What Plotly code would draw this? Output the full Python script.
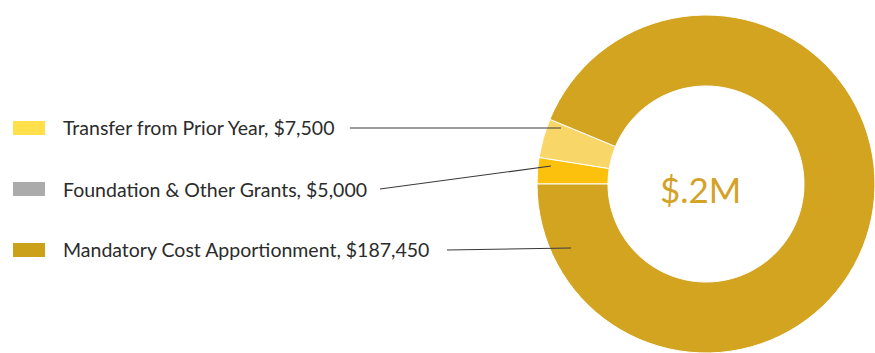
import plotly.graph_objects as go

# Funding sources (legend order)
labels = ["Transfer from Prior Year", "Foundation & Other Grants", "Mandatory Cost Apportionment"]
values = [7500, 5000, 187450]
value_text = ["$7,500", "$5,000", "$187,450"]
total_text = "$.2M"

slice_colors = ["#F8D668", "#FBC10C", "#D3A420"]
swatch_colors = ["#FFE04A", "#ABABAB", "#CBA11A"]

W, H = 875, 353


def px(x, y):
    """Convert pixel position (from top-left) to paper coordinates."""
    return x / W, 1 - y / H


# Donut placement in pixels
cx, cy, r = 706, 184, 169

fig = go.Figure()
fig.add_trace(go.Pie(
    labels=labels,
    values=values,
    sort=False,
    direction="counterclockwise",
    rotation=279,
    hole=0.58,
    marker=dict(colors=slice_colors, line=dict(color="white", width=1)),
    textinfo="none",
    hoverinfo="label+value",
    showlegend=False,
    domain=dict(x=[(cx - r) / W, (cx + r) / W], y=[1 - (cy + r) / H, 1 - (cy - r) / H]),
))

# Custom legend rows with leader lines
row_y = [128, 189, 250]
line_start_x = [350, 380, 447]
line_end = [(561, 128), (551, 166), (571, 248)]

shapes = []
annotations = []
for i, lab in enumerate(labels):
    y = row_y[i]
    x0, y0 = px(13, y - 7)
    x1, y1 = px(45, y + 7)
    shapes.append(dict(type="rect", xref="paper", yref="paper", x0=x0, y0=y1, x1=x1, y1=y0,
                       fillcolor=swatch_colors[i], line=dict(width=0)))
    tx, ty = px(61, y)
    annotations.append(dict(x=tx, y=ty, xref="paper", yref="paper", xanchor="left", yanchor="middle",
                            text=f"{lab}, {value_text[i]}", showarrow=False,
                            font=dict(family="Lato", size=19.5, color="#2b2b2b")))
    lx0, ly0 = px(line_start_x[i], y)
    lx1, ly1 = px(*line_end[i])
    shapes.append(dict(type="line", xref="paper", yref="paper", x0=lx0, y0=ly0, x1=lx1, y1=ly1,
                       line=dict(color="#3a3a3a", width=1.2)))

# Total in the centre of the donut
ccx, ccy = px(cx - 6, cy + 5)
annotations.append(dict(x=ccx, y=ccy, xref="paper", yref="paper", xanchor="center", yanchor="middle",
                        text=total_text, showarrow=False,
                        font=dict(family="Lato", size=35, color="#D4A227")))

fig.update_layout(
    width=W, height=H,
    margin=dict(l=0, r=0, t=0, b=0),
    paper_bgcolor="white", plot_bgcolor="white",
    shapes=shapes, annotations=annotations,
)

fig.write_html("out.html")
